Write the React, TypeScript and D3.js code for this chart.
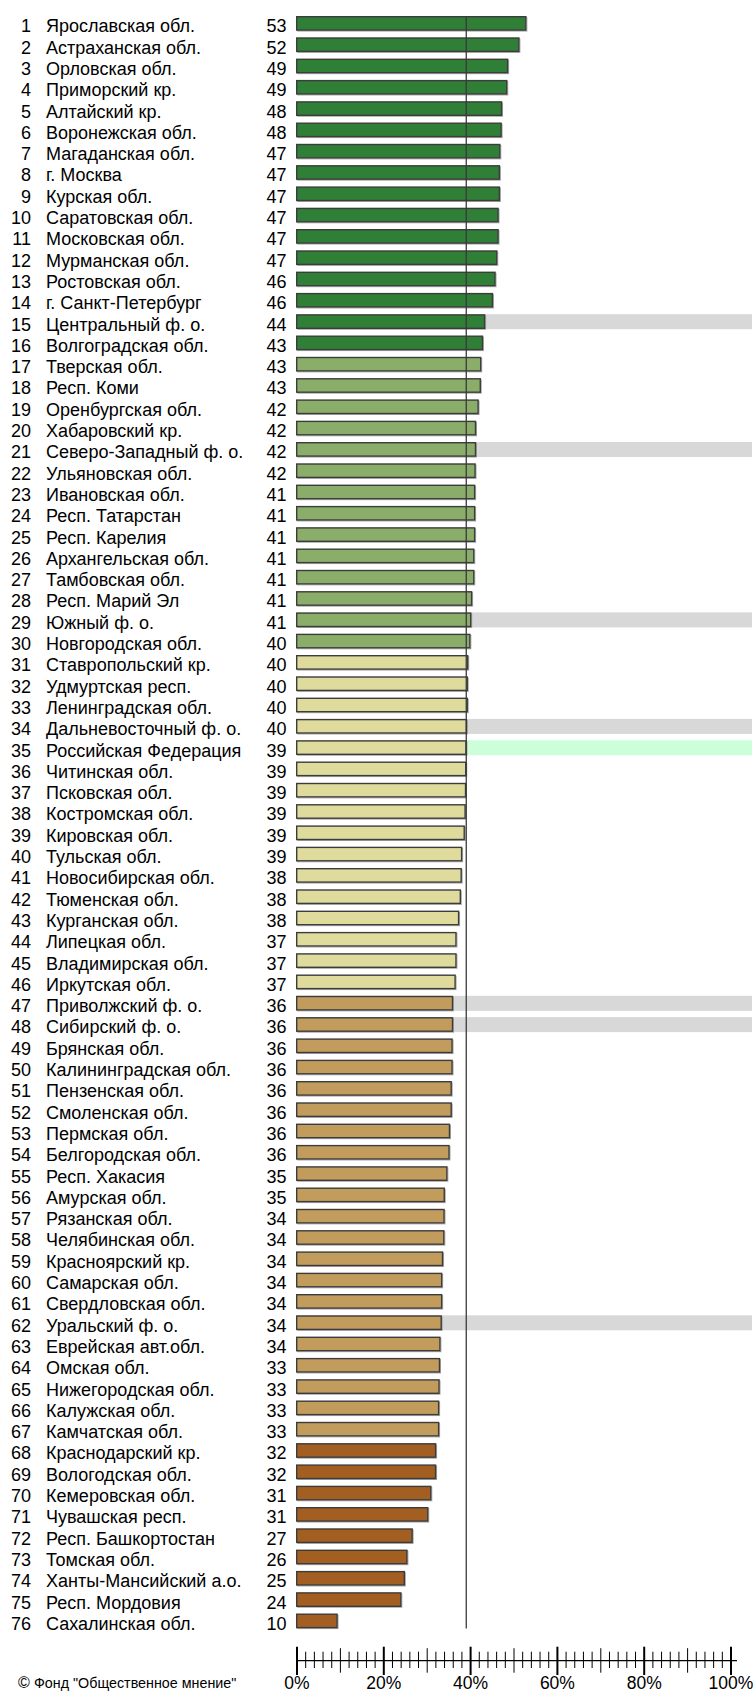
import React from "react";
import * as d3 from "d3";

const names: string[] = [
  "Ярославская обл.", "Астраханская обл.", "Орловская обл.", "Приморский кр.", "Алтайский кр.",
  "Воронежская обл.", "Магаданская обл.", "г. Москва", "Курская обл.", "Саратовская обл.",
  "Московская обл.", "Мурманская обл.", "Ростовская обл.", "г. Санкт-Петербург", "Центральный ф. о.",
  "Волгоградская обл.", "Тверская обл.", "Респ. Коми", "Оренбургская обл.", "Хабаровский кр.",
  "Северо-Западный ф. о.", "Ульяновская обл.", "Ивановская обл.", "Респ. Татарстан", "Респ. Карелия",
  "Архангельская обл.", "Тамбовская обл.", "Респ. Марий Эл", "Южный ф. о.", "Новгородская обл.",
  "Ставропольский кр.", "Удмуртская респ.", "Ленинградская обл.", "Дальневосточный ф. о.", "Российская Федерация",
  "Читинская обл.", "Псковская обл.", "Костромская обл.", "Кировская обл.", "Тульская обл.",
  "Новосибирская обл.", "Тюменская обл.", "Курганская обл.", "Липецкая обл.", "Владимирская обл.",
  "Иркутская обл.", "Приволжский ф. о.", "Сибирский ф. о.", "Брянская обл.", "Калининградская обл.",
  "Пензенская обл.", "Смоленская обл.", "Пермская обл.", "Белгородская обл.", "Респ. Хакасия",
  "Амурская обл.", "Рязанская обл.", "Челябинская обл.", "Красноярский кр.", "Самарская обл.",
  "Свердловская обл.", "Уральский ф. о.", "Еврейская авт.обл.", "Омская обл.", "Нижегородская обл.",
  "Калужская обл.", "Камчатская обл.", "Краснодарский кр.", "Вологодская обл.", "Кемеровская обл.",
  "Чувашская респ.", "Респ. Башкортостан", "Томская обл.", "Ханты-Мансийский а.о.", "Респ. Мордовия",
  "Сахалинская обл.",
];

const shownValues: number[] = [
  53, 52, 49, 49, 48, 48, 47, 47, 47, 47, 47, 47, 46, 46, 44, 43, 43, 43, 42, 42,
  42, 42, 41, 41, 41, 41, 41, 41, 41, 40, 40, 40, 40, 40, 39, 39, 39, 39, 39, 39,
  38, 38, 38, 37, 37, 37, 36, 36, 36, 36, 36, 36, 36, 36, 35, 35, 34, 34, 34, 34,
  34, 34, 34, 33, 33, 33, 33, 32, 32, 31, 31, 27, 26, 25, 24, 10,
];

const barValues: number[] = [
  52.8, 51.2, 48.6, 48.4, 47.2, 47.1, 46.8, 46.7, 46.7, 46.4, 46.4, 46.1, 45.7, 45.1, 43.3, 42.8, 42.4, 42.3, 41.8, 41.2,
  41.2, 41.1, 41.0, 41.0, 41.0, 40.8, 40.8, 40.3, 40.1, 39.9, 39.4, 39.3, 39.3, 39.1, 39.0, 38.95, 38.9, 38.8, 38.6, 38.0,
  37.9, 37.7, 37.3, 36.7, 36.7, 36.5, 35.9, 35.9, 35.8, 35.8, 35.6, 35.6, 35.2, 35.1, 34.6, 34.0, 33.95, 33.9, 33.6, 33.4,
  33.4, 33.3, 33.0, 32.9, 32.8, 32.7, 32.7, 32.0, 32.0, 30.9, 30.2, 26.6, 25.4, 24.8, 24.0, 9.3,
];

// colour group per row (0 dark green ... 4 brown)
const groupBreaks: number[] = [16, 30, 46, 67, 76];
const groupColors: string[] = ["#2f7f37", "#8aae6a", "#dfdb9d", "#c29c5c", "#a35f21"];
const districtRows: number[] = [15, 21, 29, 34, 47, 48, 62];
const nationRow = 35;
const axisTickLabels: string[] = ["0%", "20%", "40%", "60%", "80%", "100%"];

const W = 755;
const H = 1693;
const FONT = "'Liberation Sans', Arial, Helvetica, sans-serif";

export default function App() {
  const x = d3.scaleLinear().domain([0, 100]).range([297, 731]);
  const rowTop = d3.scaleLinear().domain([0, 1]).range([16, 16 + 21.3]);
  const barH = 13.4;
  const groupOf = (i: number) => groupBreaks.findIndex((b) => i + 1 <= b);
  const avg = barValues[nationRow - 1];
  const axisY = 1660.7;
  const ticks = x.ticks(50);
  const lastTop = rowTop(names.length - 1);

  return (
    <svg
      width={W}
      height={H}
      style={{ position: "absolute", left: 0, top: 0, background: "#fff" }}
      fontFamily={FONT}
    >
      {/* highlight bands */}
      {names.map((_, i) => {
        const r = i + 1;
        const isD = districtRows.includes(r);
        const isN = r === nationRow;
        if (!isD && !isN) return null;
        return (
          <rect
            key={"band" + i}
            x={x(0)}
            y={rowTop(i)}
            width={752 - x(0)}
            height={barH + 1.6}
            fill={isN ? "#ccffd9" : "#d8d8d8"}
          />
        );
      })}
      {/* bars */}
      {barValues.map((v, i) => (
        <g key={"bar" + i}>
          <rect
            x={x(0) + 0.7}
            y={rowTop(i) + 1.7}
            width={x(v) - x(0)}
            height={barH}
            fill="none"
            stroke="#a8a8a8"
            strokeWidth={1}
          />
          <rect
            x={x(0) - 0.3}
            y={rowTop(i) + 0.7}
            width={x(v) - x(0)}
            height={barH}
            fill={groupColors[groupOf(i)]}
            stroke="#3c3c3c"
            strokeWidth={1.4}
          />
        </g>
      ))}
      {/* average line */}
      <line
        x1={x(avg)}
        x2={x(avg)}
        y1={rowTop(0)}
        y2={lastTop + barH + 1.5}
        stroke="#3a3a3a"
        strokeWidth={1.3}
      />
      {/* texts */}
      {names.map((n, i) => (
        <g key={"t" + i} fontSize={18} fill="#000">
          <text x={31} y={rowTop(i) + 16.3} textAnchor="end">
            {i + 1}
          </text>
          <text x={46} y={rowTop(i) + 16.3}>
            {n}
          </text>
          <text x={286.5} y={rowTop(i) + 16.3} textAnchor="end">
            {shownValues[i]}
          </text>
        </g>
      ))}
      {/* axis */}
      <line x1={x(0)} x2={737} y1={axisY} y2={axisY} stroke="#000" strokeWidth={1.2} />
      {ticks.map((t) => {
        const major = t % 20 === 0;
        const mid = !major && t % 10 === 0;
        const up = major ? 14 : mid ? 12.5 : 9;
        const down = major ? 14.3 : mid ? 12 : 7.3;
        return (
          <line
            key={"tk" + t}
            x1={x(t)}
            x2={x(t)}
            y1={axisY - up}
            y2={axisY + down}
            stroke="#000"
            strokeWidth={major ? 2 : 1}
          />
        );
      })}
      {axisTickLabels.map((l, k) => (
        <text key={"al" + k} x={x(k * 20)} y={1688.5} textAnchor="middle" fontSize={17.5} fill="#000">
          {l}
        </text>
      ))}
      <text x={18} y={1688} fontSize={16} fill="#000">
        ©
      </text>
      <text x={34} y={1688} fontSize={14.3} fill="#000">
        Фонд "Общественное мнение"
      </text>
    </svg>
  );
}
